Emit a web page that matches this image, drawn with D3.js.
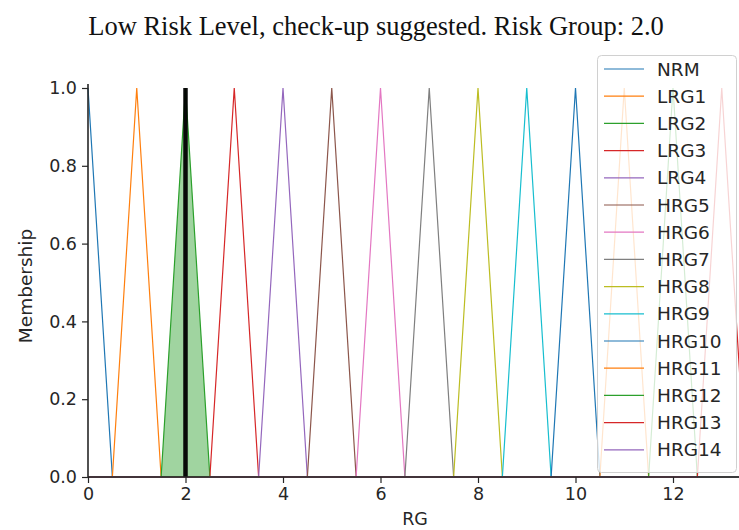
<!DOCTYPE html>
<html>
<head>
<meta charset="utf-8">
<script src="https://cdn.jsdelivr.net/npm/d3@7"></script>
<style>
  html, body { margin: 0; padding: 0; background: #fff; }
  svg { display: block; }
</style>
</head>
<body>
<svg id="chart" width="739" height="530"></svg>
<script>
// ---- data ----
const titleText = "Low Risk Level, check-up suggested. Risk Group: 2.0";
const seriesNames = ["NRM","LRG1","LRG2","LRG3","LRG4","HRG5","HRG6","HRG7","HRG8","HRG9","HRG10","HRG11","HRG12","HRG13","HRG14"];
const triLeft  = [-0.5, 0.5, 1.5, 2.5, 3.5, 4.5, 5.5, 6.5, 7.5, 8.5, 9.5, 10.5, 11.5, 12.5, 13.5];
const triPeak  = [0, 1, 2, 3, 4, 5, 6, 7, 8, 9, 10, 11, 12, 13, 14];
const triRight = [0.5, 1.5, 2.5, 3.5, 4.5, 5.5, 6.5, 7.5, 8.5, 9.5, 10.5, 11.5, 12.5, 13.5, 14.5];
const universe = [0, 14];
const activeIndex = 2;        // LRG2 activated
const defuzzValue = 2.0;      // risk group
const xTicks = [0, 2, 4, 6, 8, 10, 12];
const yTicks = [0.0, 0.2, 0.4, 0.6, 0.8, 1.0];
const palette = ["#1f77b4","#ff7f0e","#2ca02c","#d62728","#9467bd","#8c564b","#e377c2","#7f7f7f","#bcbd22","#17becf"];

// ---- layout ----
const svg = d3.select("#chart");
const x = d3.scaleLinear().domain(universe).range([88, 88 + 14 * 48.75]);
const y = d3.scaleLinear().domain([0, 1]).range([477, 88]);
const axisColor = "#262626";

function triPoints(i) {
  const a = triLeft[i], b = triPeak[i], c = triRight[i];
  const lo = universe[0], hi = universe[1];
  const mu = v => v <= a || v >= c ? 0 : (v <= b ? (v - a) / (b - a) : (c - v) / (c - b));
  const xs = [lo, a, b, c, hi].filter(v => v >= lo && v <= hi);
  return xs.map(v => [v, mu(v)]);
}

svg.append("rect").attr("width", 739).attr("height", 530).attr("fill", "#fff");

// title
svg.append("text")
  .attr("x", 376).attr("y", 35)
  .attr("text-anchor", "middle")
  .attr("font-family", "'Liberation Serif', 'Times New Roman', serif")
  .attr("font-size", 26.5)
  .attr("fill", "#111")
  .text(titleText);

// plot lines
const line = d3.line().x(d => x(d[0])).y(d => y(d[1]));
const plot = svg.append("g");
seriesNames.forEach((name, i) => {
  plot.append("path")
    .datum(triPoints(i))
    .attr("d", line)
    .attr("fill", "none")
    .attr("stroke", palette[i % 10])
    .attr("stroke-width", 1.2);
});

// activation fill
const area = d3.area().x(d => x(d[0])).y0(y(0)).y1(d => y(d[1]));
plot.append("path")
  .datum(triPoints(activeIndex).filter(d => d[0] >= triLeft[activeIndex] && d[0] <= triRight[activeIndex]))
  .attr("d", area)
  .attr("fill", palette[activeIndex % 10])
  .attr("fill-opacity", 0.45)
  .attr("stroke", "none");

// defuzzified value line
plot.append("line")
  .attr("x1", x(defuzzValue)).attr("x2", x(defuzzValue))
  .attr("y1", y(0)).attr("y2", y(1))
  .attr("stroke", "#000").attr("stroke-width", 4.5).attr("opacity", 0.95);

// axes
const xAxis = svg.append("g").attr("transform", `translate(0,${y(0)})`)
  .call(d3.axisBottom(x).tickValues(xTicks).tickFormat(d3.format("d")).tickSizeOuter(0).tickSize(6).tickPadding(5));
const yAxis = svg.append("g").attr("transform", `translate(${x(0)},0)`)
  .call(d3.axisLeft(y).tickValues(yTicks).tickFormat(d3.format(".1f")).tickSizeOuter(0).tickSize(6).tickPadding(5));
[xAxis, yAxis].forEach(g => {
  g.selectAll("path.domain").remove();
  g.selectAll("line").attr("stroke", axisColor).attr("stroke-width", 1.2);
  g.selectAll("text").attr("fill", axisColor)
    .attr("font-family", "'DejaVu Sans', sans-serif").attr("font-size", 17.5);
});
// spines
svg.append("line").attr("x1", x(0)).attr("x2", 739).attr("y1", y(0)).attr("y2", y(0))
  .attr("stroke", axisColor).attr("stroke-width", 1.6);
svg.append("line").attr("x1", x(0)).attr("x2", x(0)).attr("y1", y(1.01)).attr("y2", y(0))
  .attr("stroke", axisColor).attr("stroke-width", 1.6);

// axis labels
svg.append("text").attr("x", 415).attr("y", 525)
  .attr("text-anchor", "middle")
  .attr("font-family", "'DejaVu Sans', sans-serif").attr("font-size", 17.5)
  .attr("fill", axisColor).text("RG");
svg.append("text").attr("transform", "translate(32,286) rotate(-90)")
  .attr("text-anchor", "middle")
  .attr("font-family", "'DejaVu Sans', sans-serif").attr("font-size", 18.5)
  .attr("fill", axisColor).text("Membership");

// legend
const leg = svg.append("g");
leg.append("rect").attr("x", 597.5).attr("y", 55.5).attr("width", 139).attr("height", 417)
  .attr("rx", 4).attr("fill", "#fff").attr("fill-opacity", 0.8)
  .attr("stroke", "#d0d0d0").attr("stroke-width", 1);
seriesNames.forEach((name, i) => {
  const cy = 69 + i * 27.2;
  leg.append("line").attr("x1", 604).attr("x2", 644).attr("y1", cy).attr("y2", cy)
    .attr("stroke", palette[i % 10]).attr("stroke-width", 1.2);
  leg.append("text").attr("x", 657).attr("y", cy).attr("dy", "0.36em")
    .attr("font-family", "'DejaVu Sans', sans-serif").attr("font-size", 18.5)
    .attr("fill", axisColor).text(name);
});
</script>
</body>
</html>
